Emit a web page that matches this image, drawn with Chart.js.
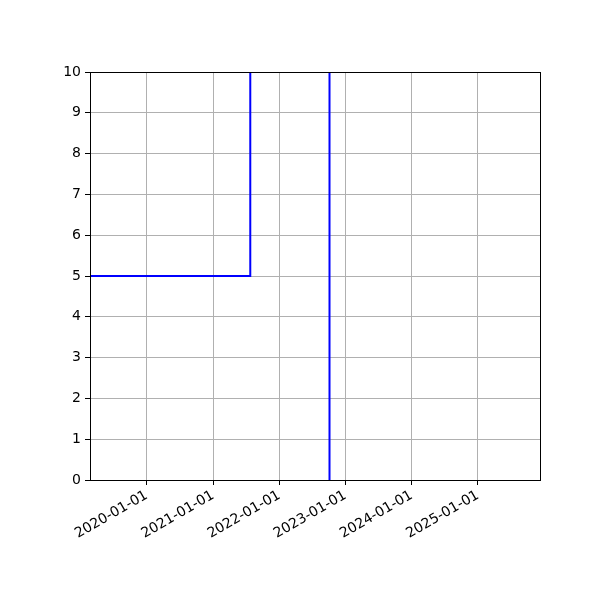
<!DOCTYPE html>
<html>
<head>
<meta charset="utf-8">
<script src="https://cdn.jsdelivr.net/npm/chart.js@4"></script>
<style>
  body { margin: 0; background: #fff; }
</style>
</head>
<body>
<canvas id="chart" width="600" height="600"></canvas>
<script>
// line data: dates and values (parts run off the visible range and get clipped)
const lineDates = ["2019-01-01", "2021-07-25", "2021-07-25", "2022-10-05", "2022-10-05"];
const lineValues = [5, 5, 15, 15, -5];

// axis ranges and ticks
const xStart = "2019-02-22";
const xEnd = "2025-12-09";
const tickYears = [2020, 2021, 2022, 2023, 2024, 2025];
const yTicks = [0, 1, 2, 3, 4, 5, 6, 7, 8, 9, 10];

const points = lineDates.map((d, i) => ({ x: Date.parse(d), y: lineValues[i] }));

function pad(n) {
  return String(n).padStart(2, "0");
}

// black box round the plot area, like matplotlib spines
const frame = {
  id: "frame",
  afterDatasetsDraw(chart) {
    const { ctx, chartArea: a } = chart;
    ctx.save();
    ctx.strokeStyle = "#000";
    ctx.lineWidth = 1;
    ctx.strokeRect(a.left + 0.5, a.top + 0.5, a.right - a.left, a.bottom - a.top);
    ctx.restore();
  },
};

const font = { family: "'DejaVu Sans', sans-serif", size: 14 };

new Chart(document.getElementById("chart").getContext("2d"), {
  type: "line",
  data: {
    datasets: [
      {
        data: points,
        borderColor: "#0000ff",
        borderWidth: 2,
        pointRadius: 0,
        tension: 0,
        fill: false,
      },
    ],
  },
  options: {
    responsive: false,
    animation: false,
    devicePixelRatio: 1,
    layout: { padding: { left: 0, right: 60, top: 72, bottom: 0 } },
    plugins: { legend: { display: false }, tooltip: { enabled: false } },
    scales: {
      x: {
        type: "linear",
        min: Date.parse(xStart),
        max: Date.parse(xEnd),
        afterBuildTicks: (scale) => {
          scale.ticks = tickYears.map((y) => ({ value: Date.UTC(y, 0, 1) }));
        },
        afterFit: (scale) => {
          scale.height = 120;
        },
        ticks: {
          autoSkip: false,
          minRotation: 30,
          maxRotation: 30,
          color: "#000",
          font,
          padding: 2,
          callback: (v) => {
            const d = new Date(v);
            return `${d.getUTCFullYear()}-${pad(d.getUTCMonth() + 1)}-${pad(d.getUTCDate())}`;
          },
        },
        grid: { color: "#b0b0b0", lineWidth: 1, tickLength: 5, tickColor: "#000" },
        border: { color: "#000" },
      },
      y: {
        min: 0,
        max: 10,
        afterBuildTicks: (scale) => {
          scale.ticks = yTicks.map((v) => ({ value: v }));
        },
        afterFit: (scale) => {
          scale.width = 90;
        },
        ticks: { color: "#000", font, padding: 4 },
        grid: { color: "#b0b0b0", lineWidth: 1, tickLength: 5, tickColor: "#000" },
        border: { color: "#000" },
      },
    },
  },
  plugins: [frame],
});
</script>
</body>
</html>
